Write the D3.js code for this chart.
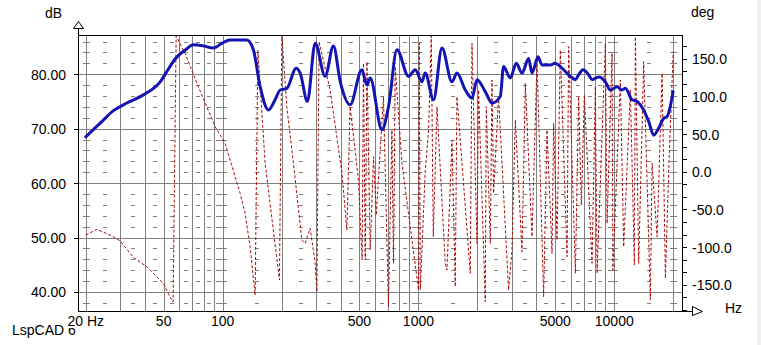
<!DOCTYPE html>
<html><head><meta charset="utf-8">
<script src="https://cdn.jsdelivr.net/npm/d3@7"></script>
<style>
html,body{margin:0;padding:0;background:#fff;}
svg{display:block;font-family:"Liberation Sans",Arial,sans-serif;}
</style></head><body>
<svg id="c" width="761" height="345"></svg>
<script>
// ---- data ----
const magFreq = [20,23.7,27.7,32.4,39.4,48,53,57.2,64.3,70.9,79.5,89.7,99.4,109,133,143.6,155.5,171.4,185.4,196.8,212.9,237.6,249,271,297,334,368,399,448,514,546,567,651,704,777,890,963,1042,1083,1194,1319,1483,1573,1735,1877,1991,2194,2375,2618,2722,2945,3161,3381,3653,3801,4081,4276,4716,5000,5306,5967,6330,6581,6930,7401,7703,8324,9006,9550,10333,10960,11395,12330,13077,14137,14994,15900,16865,17880,18615,19970];
const magDb = [68.5,71.0,73.3,74.7,76.2,78.6,81.0,82.8,84.4,85.4,85.2,84.8,85.7,86.3,86.3,84.5,77.7,73.4,75.3,77.1,77.4,81.1,80.2,75.0,85.7,79.6,85.2,78.6,74.4,80.8,78.0,79.3,69.8,74.1,84.5,79.6,80.8,78.6,80.2,75.3,84.8,78.6,80.2,77.1,75.6,79.0,76.8,74.7,75.9,81.4,79.3,82.0,80.2,82.9,80.2,83.2,81.7,81.7,82.0,81.4,79.6,79.0,79.9,80.8,79.9,79.0,79.5,78.6,77.1,77.7,77.1,77.4,75.3,75.0,73.4,71.3,68.8,70.1,71.9,72.2,76.8];

const phaseFreq = [20,22.8,26.6,29.9,35.0,41.0,49.8,53.9,55.9,57.9,64.3,75.2,91.6,103,122.9,130.3,138.2,146.6,151.4,164.9,195.1,200.7,212.8,230,254,264,280,297,303,311,354,407,431,448,494,516,524,535,546,567,590,609,663,703,732,746,761,824,1001,1010,1022,1084,1127,1163,1191,1244,1371,1399,1484,1542,1573,1840,1877,1991,2028,2195,2221,2328,2375,2420,2566,2886,3004,3124,3380,3514,3802,4032,4359,4536,4811,4902,5102,5304,5740,5848,6331,6578,6791,7036,7703,8008,8168,9008,9190,9746,9838,10746,11172,12086,12670,12820,13326,14136,15294,15604,16548,17552,18248,18974,20000];
const phaseDeg = [-84,-76.4,-84,-91.5,-113.5,-126,-148,-166.2,-172.8,180,157,112.7,59.7,37.7,-28.6,-55.2,-99.5,-163.5,161.4,11.1,-143.6,180,86.2,11.1,-90.6,-95,-75.1,-121.5,-159.2,172.4,108.4,-1.7,-77.3,86.2,-11,-117.1,143.8,-117.1,145.9,-103.8,19.9,-57.4,99.5,-179,55.3,-121.5,139.3,11.1,-156.9,170.3,-156.9,2.3,55.3,180,-86.2,86.2,-121.5,-130.4,42,-152.5,99.5,-134.7,170.3,-95,108.4,-172.4,86.2,-95,121.6,-28.6,99.5,-156.9,-103.8,68.6,-106.1,117.2,-86.2,148.1,-165.8,55.3,-108.2,64.2,-90.6,161.4,-112.7,165.8,-134.7,99.5,-44.2,101.7,-121.5,112.7,-134.7,170.3,-68.4,157,-130.4,121.6,-99.5,108.4,-123.7,179,-121.5,145.9,-170.2,11.1,-86.2,130.5,-141.4,2.3,159.2];

const dbTicks = [40,50,60,70,80];
const dbMinor = [38,42,44,46,48,52,54,56,58,62,64,66,68,72,74,76,78,82,84,86];
const degTicks = [-150,-100,-50,0,50,100,150];
const freqLabelVals = [20,50,100,500,1000,5000,10000];
const freqLabelText = ["20 Hz","50","100","500","1000","5000","10000"];
const freqGrid = [20,30,40,50,60,70,80,90,100,200,300,400,500,600,700,800,900,1000,2000,3000,4000,5000,6000,7000,8000,9000,10000,20000];
const freqMinorMarks = [25,35,45,55,65,75,85,95,150,250,350,450,550,650,750,850,950,1500,2500,3500,4500,5500,6500,7500,8500,9500,15000];
const freqCrossMarks = [20,100,1000,10000,20000];

// ---- layout ----
const P = {left:77.7, right:681.7, top:35, bottom:311};
const svg = d3.select("#c");
const x = d3.scaleLog().domain([18.2,22100]).range([P.left,P.right]);
const yDb = d3.scaleLinear().domain([36.5,87.2]).range([P.bottom,P.top]);
const yDeg = d3.scaleLinear().domain([-184.7,181.3]).range([P.bottom,P.top]);
const px = v => Math.round(v)+0.5;
const L = Math.round(P.left)+0.5, R = Math.round(P.right)+0.5, T = Math.round(P.top)+0.5, B = Math.round(P.bottom)+0.5;

svg.append("rect").attr("x",757).attr("y",0).attr("width",4).attr("height",345).attr("fill","#f0f0f0");
svg.append("rect").attr("x",L).attr("y",T).attr("width",R-L).attr("height",B-T).attr("fill","#fff");

svg.append("defs").append("clipPath").attr("id","clip").append("rect")
  .attr("x",L).attr("y",T).attr("width",R-L).attr("height",B-T);

const grid = svg.append("g").attr("stroke","#808080").attr("stroke-width",1).attr("shape-rendering","crispEdges");
dbMinor.forEach(d=>{
  const yy = px(yDb(d));
  freqMinorMarks.forEach(f=>{
    const xx = x(f);
    grid.append("line").attr("x1",Math.round(xx)-2).attr("x2",Math.round(xx)+2).attr("y1",yy).attr("y2",yy);
  });
  freqCrossMarks.forEach(f=>{
    const xx = x(f);
    grid.append("line").attr("x1",Math.round(xx)-3).attr("x2",Math.round(xx)+4).attr("y1",yy).attr("y2",yy);
  });
});
freqGrid.forEach(f=>{
  grid.append("line").attr("x1",px(x(f))).attr("x2",px(x(f))).attr("y1",T).attr("y2",B);
});
dbTicks.forEach(d=>{
  grid.append("line").attr("x1",L).attr("x2",R).attr("y1",px(yDb(d))).attr("y2",px(yDb(d)));
});

// phase
const phasePts = d3.zip(phaseFreq, phaseDeg);
svg.append("path").datum(phasePts)
  .attr("clip-path","url(#clip)")
  .attr("fill","none").attr("stroke","#a80c0c").attr("stroke-width",1)
  .attr("stroke-dasharray","3,2")
  .attr("d", d3.line().x(d=>x(d[0])).y(d=>yDeg(d[1])));

// magnitude
const magPts = d3.zip(magFreq, magDb);
svg.append("path").datum(magPts)
  .attr("clip-path","url(#clip)")
  .attr("fill","none").attr("stroke","#1414b4").attr("stroke-width",3)
  .attr("stroke-linejoin","round").attr("stroke-linecap","round")
  .attr("d", d3.line().curve(d3.curveMonotoneX).x(d=>x(d[0])).y(d=>yDb(d[1])));

// axes frame
const ax = svg.append("g").attr("stroke","#000").attr("stroke-width",1).attr("shape-rendering","crispEdges").attr("fill","none");
ax.append("line").attr("x1",L).attr("x2",R).attr("y1",T).attr("y2",T);
ax.append("line").attr("x1",L).attr("x2",L).attr("y1",28).attr("y2",B);
ax.append("line").attr("x1",R).attr("x2",R).attr("y1",T).attr("y2",B);
ax.append("line").attr("x1",L).attr("x2",693).attr("y1",B).attr("y2",B);
svg.append("path").attr("d",`M${L-5},28.5 L${L+5},28.5 L${L},21.5 Z`).attr("fill","#fff").attr("stroke","#000");
svg.append("path").attr("d",`M692.5,${B-5} L692.5,${B+4} L702.5,${B} Z`).attr("fill","#fff").attr("stroke","#000");

dbTicks.forEach(d=>{
  ax.append("line").attr("x1",L-5).attr("x2",L).attr("y1",px(yDb(d))).attr("y2",px(yDb(d)));
});
d3.range(-11,11).map(k=>k*50/3).filter(v=>v>=-184.7 && v<=181.3).forEach(v=>{
  ax.append("line").attr("x1",R).attr("x2",R+4).attr("y1",px(yDeg(v))).attr("y2",px(yDeg(v)));
});

// labels
const txt = svg.append("g").attr("fill","#000").style("font-size","14px");
dbTicks.forEach(d=>{
  txt.append("text").attr("x",66).attr("y",yDb(d)+5.5).attr("text-anchor","end").text(d.toFixed(2));
});
degTicks.forEach(v=>{
  txt.append("text").attr("x",692).attr("y",yDeg(v)+5.5).attr("text-anchor","start").text(v.toFixed(1));
});
txt.append("text").attr("x",45).attr("y",18).text("dB");
txt.append("text").attr("x",691).attr("y",17).text("deg");
txt.append("text").attr("x",725).attr("y",313).text("Hz");
txt.append("text").attr("x",12).attr("y",335).text("LspCAD 6");
freqLabelVals.forEach((f,i)=>{
  const t = txt.append("text").attr("x",x(f)).attr("y",326).attr("text-anchor","middle").text(freqLabelText[i]);
  if(i===0){
    const bb = t.node().getBBox();
    txt.insert("rect","text:last-child").attr("x",bb.x-1).attr("y",bb.y).attr("width",bb.width+2).attr("height",bb.height-1).attr("fill","#fff");
  }
});
</script>
</body></html>
